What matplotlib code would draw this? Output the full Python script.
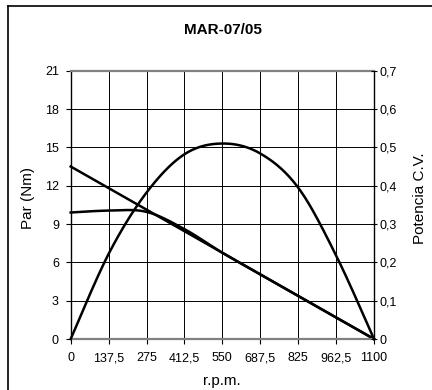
import numpy as np
import matplotlib
matplotlib.use("Agg")
import matplotlib.pyplot as plt
from matplotlib.lines import Line2D

plt.rcParams['font.family'] = ['Liberation Sans', 'DejaVu Sans']

# data
rpm = [0, 137.5, 275, 412.5, 550, 687.5, 825, 962.5, 1100]
par_medido = [9.9, 10.05, 9.95, 8.6, 6.75, 5.06, 3.375, 1.69, 0]
par_recta_rpm = [0, 1100]
par_recta = [13.5, 0]
potencia = [0, 0.222, 0.382, 0.482, 0.51, 0.484, 0.395, 0.218, 0]

x_labels = ['0', '137,5', '275', '412,5', '550', '687,5', '825', '962,5', '1100']
left_ticks = [0, 3, 6, 9, 12, 15, 18, 21]
right_ticks = [0, 0.1, 0.2, 0.3, 0.4, 0.5, 0.6, 0.7]
right_labels = ['0', '0,1', '0,2', '0,3', '0,4', '0,5', '0,6', '0,7']


def smooth(xs, ys, n=30):
    # smoothed line like the spreadsheet one (Catmull-Rom through the points)
    p = np.column_stack([xs, ys]).astype(float)
    p = np.vstack([p[0], p, p[-1]])
    out = []
    t = np.linspace(0, 1, n)[:, None]
    for i in range(1, len(p) - 2):
        p0, p1, p2, p3 = p[i - 1], p[i], p[i + 1], p[i + 2]
        seg = 0.5 * (2 * p1 + (-p0 + p2) * t + (2 * p0 - 5 * p1 + 4 * p2 - p3) * t ** 2
                     + (-p0 + 3 * p1 - 3 * p2 + p3) * t ** 3)
        out.append(seg if i == 1 else seg[1:])
    out = np.vstack(out)
    return out[:, 0], out[:, 1]


fig = plt.figure(figsize=(4.32, 3.9), dpi=100)
ax = fig.add_axes([70.7 / 432, 1 - 339 / 390, (374 - 70.7) / 432, (339 - 70.7) / 390])

ax.set_xlim(0, 1100)
ax.set_ylim(0, 21)
ax.set_xticks(rpm)
ax.set_xticklabels(x_labels)
ax.set_yticks(left_ticks)
ax.grid(True, color='black', linewidth=0.7)
ax.set_axisbelow(True)
ax.tick_params(axis='both', labelsize=9, length=3.5, width=0.8, direction='out')
ax.tick_params(axis='x', pad=6)
ax.tick_params(axis='y', pad=5)
for s in ['top', 'bottom']:
    ax.spines[s].set_color('#808080')
    ax.spines[s].set_linewidth(1.6)
for s in ['left', 'right']:
    ax.spines[s].set_color('black')
    ax.spines[s].set_linewidth(1.0)

sx, sy = smooth(rpm, par_medido)
ax.plot(sx, sy, color='black', linewidth=1.8, clip_on=False)
ax.plot(par_recta_rpm, par_recta, color='black', linewidth=1.8, clip_on=False)

ax2 = ax.twinx()
ax2.set_ylim(0, 0.7)
ax2.set_yticks(right_ticks)
ax2.set_yticklabels(right_labels)
ax2.tick_params(axis='y', labelsize=9, length=5, width=0.8, pad=1.5, direction='inout')
for s in ax2.spines.values():
    s.set_visible(False)
px, py = smooth(rpm, potencia)
ax2.plot(px, py, color='black', linewidth=1.8, clip_on=False)

fig.text(223 / 432, 1 - 30 / 390, 'MAR-07/05', ha='center', va='center',
         fontsize=11, fontweight='bold')
fig.text(28 / 432, 1 - 198 / 390, 'Par (Nm)', ha='center', va='center',
         rotation=90, fontsize=11)
fig.text(420 / 432, 1 - 198 / 390, 'Potencia C.V.', ha='center', va='center',
         rotation=90, fontsize=11)
fig.text(222 / 432, 1 - 381 / 390, 'r.p.m.', ha='center', va='center', fontsize=11)

# outer chart frame (only top and left edges fall inside the picture)
fig.add_artist(Line2D([7.5 / 432, 1], [1 - 5.5 / 390, 1 - 5.5 / 390],
                      transform=fig.transFigure, color='black', linewidth=1.2))
fig.add_artist(Line2D([7.5 / 432, 7.5 / 432], [0, 1 - 5.5 / 390],
                      transform=fig.transFigure, color='black', linewidth=1.2))

fig.savefig('out.png', dpi=100)
